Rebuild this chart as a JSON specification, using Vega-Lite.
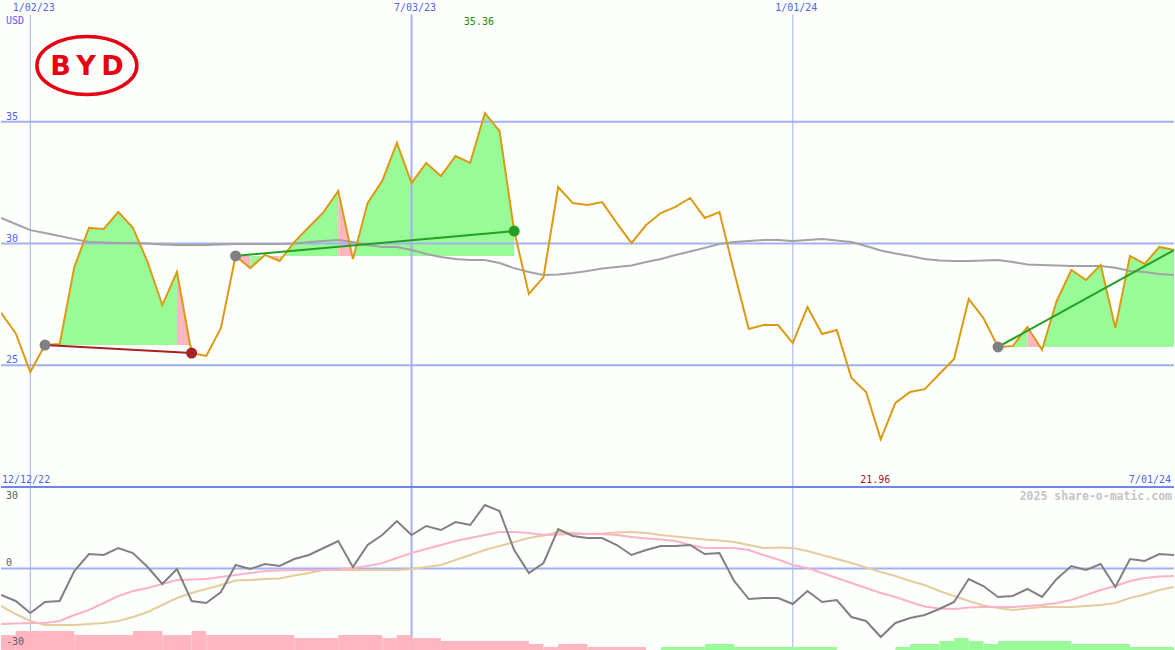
{
  "$schema": "https://vega.github.io/schema/vega-lite/v6.json",
  "width": 1175,
  "height": 650,
  "autosize": {"type": "fit", "contains": "padding"},
  "padding": 0,
  "background": "#fcfffc",
  "config": {"view": {"stroke": null}, "text": {"font": "DejaVu Sans Mono", "fontSize": 10}},
  "datasets": {
    "w": [
      {"d":"2022-12-19","p":27.15,"ma":31.05,"o":-9.75,"s1":-20.43,"s2":-13.80},
      {"d":"2022-12-26","p":26.32,"ma":30.80,"o":-11.96,"s1":-20.24,"s2":-16.75},
      {"d":"2023-01-02","p":24.72,"ma":30.55,"o":-16.38,"s1":-20.06,"s2":-19.32},
      {"d":"2023-01-09","p":25.83,"ma":30.43,"o":-12.33,"s1":-20.06,"s2":-20.79},
      {"d":"2023-01-16","p":25.87,"ma":30.31,"o":-11.96,"s1":-19.32,"s2":-20.79},
      {"d":"2023-01-23","p":29.03,"ma":30.18,"o":-0.92,"s1":-17.11,"s2":-20.79},
      {"d":"2023-01-30","p":30.64,"ma":30.06,"o":5.34,"s1":-15.27,"s2":-20.43},
      {"d":"2023-02-06","p":30.60,"ma":30.04,"o":4.97,"s1":-12.70,"s2":-20.06},
      {"d":"2023-02-13","p":31.29,"ma":30.02,"o":7.55,"s1":-10.12,"s2":-19.32},
      {"d":"2023-02-20","p":30.64,"ma":30.02,"o":5.70,"s1":-8.28,"s2":-17.85},
      {"d":"2023-02-27","p":29.24,"ma":30.00,"o":0.55,"s1":-7.18,"s2":-16.01},
      {"d":"2023-03-06","p":27.47,"ma":29.96,"o":-5.71,"s1":-5.70,"s2":-13.43},
      {"d":"2023-03-13","p":28.83,"ma":29.94,"o":-0.18,"s1":-4.23,"s2":-10.86},
      {"d":"2023-03-20","p":25.50,"ma":29.94,"o":-11.96,"s1":-4.05,"s2":-9.02},
      {"d":"2023-03-27","p":25.38,"ma":29.94,"o":-12.70,"s1":-3.86,"s2":-7.54},
      {"d":"2023-04-03","p":26.53,"ma":29.96,"o":-8.65,"s1":-3.13,"s2":-6.07},
      {"d":"2023-04-10","p":29.49,"ma":29.98,"o":1.29,"s1":-2.39,"s2":-4.42},
      {"d":"2023-04-17","p":28.99,"ma":29.98,"o":-0.18,"s1":-1.66,"s2":-4.23},
      {"d":"2023-04-24","p":29.53,"ma":29.98,"o":1.66,"s1":-0.92,"s2":-3.86},
      {"d":"2023-05-01","p":29.28,"ma":29.98,"o":0.92,"s1":-0.74,"s2":-3.68},
      {"d":"2023-05-08","p":30.06,"ma":30.00,"o":3.50,"s1":-0.55,"s2":-2.58},
      {"d":"2023-05-15","p":30.68,"ma":30.06,"o":4.97,"s1":-0.55,"s2":-1.66},
      {"d":"2023-05-22","p":31.29,"ma":30.10,"o":7.55,"s1":-0.55,"s2":-0.55},
      {"d":"2023-05-29","p":32.16,"ma":30.14,"o":10.12,"s1":-0.37,"s2":-0.55},
      {"d":"2023-06-05","p":29.36,"ma":30.06,"o":0.55,"s1":0.18,"s2":-0.55},
      {"d":"2023-06-12","p":31.66,"ma":29.94,"o":8.65,"s1":0.92,"s2":-0.55},
      {"d":"2023-06-19","p":32.57,"ma":29.86,"o":12.33,"s1":2.02,"s2":-0.55},
      {"d":"2023-06-26","p":34.13,"ma":29.86,"o":17.48,"s1":3.86,"s2":-0.55},
      {"d":"2023-07-03","p":32.48,"ma":29.73,"o":12.33,"s1":5.70,"s2":-0.18},
      {"d":"2023-07-10","p":33.31,"ma":29.57,"o":15.64,"s1":7.18,"s2":0.55},
      {"d":"2023-07-17","p":32.77,"ma":29.45,"o":14.17,"s1":8.65,"s2":1.29},
      {"d":"2023-07-24","p":33.59,"ma":29.36,"o":17.11,"s1":10.12,"s2":3.13},
      {"d":"2023-07-31","p":33.31,"ma":29.32,"o":16.01,"s1":11.22,"s2":4.97},
      {"d":"2023-08-07","p":35.36,"ma":29.32,"o":23.37,"s1":12.33,"s2":6.81},
      {"d":"2023-08-14","p":34.62,"ma":29.20,"o":21.16,"s1":13.43,"s2":8.28},
      {"d":"2023-08-21","p":30.51,"ma":28.99,"o":6.81,"s1":13.43,"s2":9.75},
      {"d":"2023-08-28","p":27.93,"ma":28.83,"o":-1.66,"s1":13.06,"s2":11.23},
      {"d":"2023-09-04","p":28.62,"ma":28.71,"o":2.02,"s1":12.33,"s2":12.15},
      {"d":"2023-09-11","p":32.32,"ma":28.73,"o":14.54,"s1":12.51,"s2":13.43},
      {"d":"2023-09-18","p":31.66,"ma":28.79,"o":11.96,"s1":12.70,"s2":13.07},
      {"d":"2023-09-25","p":31.58,"ma":28.87,"o":11.22,"s1":12.70,"s2":12.70},
      {"d":"2023-10-02","p":31.70,"ma":28.97,"o":11.22,"s1":12.70,"s2":12.88},
      {"d":"2023-10-09","p":30.84,"ma":29.03,"o":8.65,"s1":12.33,"s2":13.25},
      {"d":"2023-10-16","p":30.02,"ma":29.10,"o":4.97,"s1":11.59,"s2":13.43},
      {"d":"2023-10-23","p":30.76,"ma":29.24,"o":6.81,"s1":11.04,"s2":13.07},
      {"d":"2023-10-30","p":31.25,"ma":29.36,"o":8.28,"s1":10.67,"s2":12.33},
      {"d":"2023-11-06","p":31.50,"ma":29.53,"o":8.28,"s1":10.12,"s2":11.78},
      {"d":"2023-11-13","p":31.87,"ma":29.67,"o":8.65,"s1":8.65,"s2":11.23},
      {"d":"2023-11-20","p":31.05,"ma":29.82,"o":5.34,"s1":7.54,"s2":10.67},
      {"d":"2023-11-27","p":31.29,"ma":29.98,"o":5.70,"s1":7.54,"s2":10.31},
      {"d":"2023-12-04","p":28.83,"ma":30.06,"o":-4.60,"s1":7.54,"s2":9.75},
      {"d":"2023-12-11","p":26.49,"ma":30.10,"o":-11.23,"s1":6.81,"s2":8.65},
      {"d":"2023-12-18","p":26.65,"ma":30.14,"o":-10.86,"s1":4.97,"s2":7.54},
      {"d":"2023-12-25","p":26.65,"ma":30.14,"o":-10.86,"s1":3.31,"s2":7.73},
      {"d":"2024-01-01","p":25.91,"ma":30.10,"o":-13.07,"s1":1.29,"s2":7.54},
      {"d":"2024-01-08","p":27.39,"ma":30.14,"o":-8.28,"s1":0.18,"s2":6.44},
      {"d":"2024-01-15","p":26.28,"ma":30.18,"o":-12.33,"s1":-1.66,"s2":4.97},
      {"d":"2024-01-22","p":26.45,"ma":30.12,"o":-11.59,"s1":-3.50,"s2":3.50},
      {"d":"2024-01-29","p":24.48,"ma":30.06,"o":-17.85,"s1":-5.34,"s2":2.02},
      {"d":"2024-02-05","p":23.90,"ma":29.90,"o":-19.32,"s1":-7.18,"s2":0.37},
      {"d":"2024-02-12","p":21.96,"ma":29.71,"o":-25.21,"s1":-9.02,"s2":-1.29},
      {"d":"2024-02-19","p":23.45,"ma":29.59,"o":-20.06,"s1":-10.49,"s2":-2.76},
      {"d":"2024-02-26","p":23.90,"ma":29.49,"o":-18.22,"s1":-12.33,"s2":-4.60},
      {"d":"2024-03-04","p":24.02,"ma":29.36,"o":-17.11,"s1":-13.99,"s2":-6.07},
      {"d":"2024-03-11","p":24.64,"ma":29.30,"o":-14.91,"s1":-14.72,"s2":-8.28},
      {"d":"2024-03-18","p":25.26,"ma":29.28,"o":-12.33,"s1":-14.91,"s2":-10.12},
      {"d":"2024-03-25","p":27.72,"ma":29.28,"o":-3.86,"s1":-14.35,"s2":-11.96},
      {"d":"2024-04-01","p":26.94,"ma":29.30,"o":-6.44,"s1":-14.17,"s2":-13.62},
      {"d":"2024-04-08","p":25.75,"ma":29.32,"o":-10.49,"s1":-14.17,"s2":-14.54},
      {"d":"2024-04-15","p":25.79,"ma":29.24,"o":-10.12,"s1":-14.17,"s2":-15.27},
      {"d":"2024-04-22","p":26.57,"ma":29.14,"o":-7.54,"s1":-13.80,"s2":-14.72},
      {"d":"2024-04-29","p":25.63,"ma":29.12,"o":-10.49,"s1":-13.43,"s2":-14.17},
      {"d":"2024-05-06","p":27.64,"ma":29.10,"o":-3.86,"s1":-12.70,"s2":-14.17},
      {"d":"2024-05-13","p":28.91,"ma":29.08,"o":0.92,"s1":-11.59,"s2":-14.17},
      {"d":"2024-05-20","p":28.50,"ma":29.08,"o":-0.55,"s1":-9.75,"s2":-13.80},
      {"d":"2024-05-27","p":29.12,"ma":29.08,"o":1.66,"s1":-7.91,"s2":-13.43},
      {"d":"2024-06-03","p":26.53,"ma":29.00,"o":-6.81,"s1":-6.44,"s2":-12.70},
      {"d":"2024-06-10","p":29.49,"ma":28.87,"o":3.50,"s1":-4.60,"s2":-10.86},
      {"d":"2024-06-17","p":29.16,"ma":28.83,"o":2.76,"s1":-3.50,"s2":-9.57},
      {"d":"2024-06-24","p":29.86,"ma":28.75,"o":5.34,"s1":-2.94,"s2":-7.91},
      {"d":"2024-07-01","p":29.73,"ma":28.71,"o":4.97,"s1":-2.76,"s2":-6.81}
    ],
    "fills": [
      {"d":"2023-01-09","p":25.83,"b":25.83,"run":"a","c":"up"},
      {"d":"2023-01-16","p":25.87,"b":25.83,"run":"a","c":"up"},
      {"d":"2023-01-23","p":29.03,"b":25.83,"run":"a","c":"up"},
      {"d":"2023-01-30","p":30.64,"b":25.83,"run":"a","c":"up"},
      {"d":"2023-02-06","p":30.60,"b":25.83,"run":"a","c":"up"},
      {"d":"2023-02-13","p":31.29,"b":25.83,"run":"a","c":"up"},
      {"d":"2023-02-20","p":30.64,"b":25.83,"run":"a","c":"up"},
      {"d":"2023-02-27","p":29.24,"b":25.83,"run":"a","c":"up"},
      {"d":"2023-03-06","p":27.47,"b":25.83,"run":"a","c":"up"},
      {"d":"2023-03-13","p":28.83,"b":25.83,"run":"a","c":"up"},
      {"d":"2023-03-13","p":28.83,"b":25.83,"run":"b","c":"down"},
      {"d":"2023-03-20","p":25.50,"b":25.83,"run":"b","c":"down"},
      {"d":"2023-04-10","p":29.49,"b":29.49,"run":"c","c":"down"},
      {"d":"2023-04-17","p":28.99,"b":29.49,"run":"c","c":"down"},
      {"d":"2023-04-17","p":28.99,"b":29.49,"run":"d","c":"up"},
      {"d":"2023-04-24","p":29.53,"b":29.49,"run":"d","c":"up"},
      {"d":"2023-04-24","p":29.53,"b":29.49,"run":"e","c":"down"},
      {"d":"2023-05-01","p":29.28,"b":29.49,"run":"e","c":"down"},
      {"d":"2023-05-01","p":29.28,"b":29.49,"run":"f","c":"up"},
      {"d":"2023-05-08","p":30.06,"b":29.49,"run":"f","c":"up"},
      {"d":"2023-05-15","p":30.68,"b":29.49,"run":"f","c":"up"},
      {"d":"2023-05-22","p":31.29,"b":29.49,"run":"f","c":"up"},
      {"d":"2023-05-29","p":32.16,"b":29.49,"run":"f","c":"up"},
      {"d":"2023-05-29","p":32.16,"b":29.49,"run":"g","c":"down"},
      {"d":"2023-06-05","p":29.36,"b":29.49,"run":"g","c":"down"},
      {"d":"2023-06-05","p":29.36,"b":29.49,"run":"h","c":"up"},
      {"d":"2023-06-12","p":31.66,"b":29.49,"run":"h","c":"up"},
      {"d":"2023-06-19","p":32.57,"b":29.49,"run":"h","c":"up"},
      {"d":"2023-06-26","p":34.13,"b":29.49,"run":"h","c":"up"},
      {"d":"2023-07-03","p":32.48,"b":29.49,"run":"h","c":"up"},
      {"d":"2023-07-10","p":33.31,"b":29.49,"run":"h","c":"up"},
      {"d":"2023-07-17","p":32.77,"b":29.49,"run":"h","c":"up"},
      {"d":"2023-07-24","p":33.59,"b":29.49,"run":"h","c":"up"},
      {"d":"2023-07-31","p":33.31,"b":29.49,"run":"h","c":"up"},
      {"d":"2023-08-07","p":35.36,"b":29.49,"run":"h","c":"up"},
      {"d":"2023-08-14","p":34.62,"b":29.49,"run":"h","c":"up"},
      {"d":"2023-08-21","p":30.51,"b":29.49,"run":"h","c":"up"},
      {"d":"2024-04-08","p":25.75,"b":25.75,"run":"i","c":"up"},
      {"d":"2024-04-15","p":25.79,"b":25.75,"run":"i","c":"up"},
      {"d":"2024-04-22","p":26.57,"b":25.75,"run":"i","c":"up"},
      {"d":"2024-04-22","p":26.57,"b":25.75,"run":"j","c":"down"},
      {"d":"2024-04-29","p":25.63,"b":25.75,"run":"j","c":"down"},
      {"d":"2024-04-29","p":25.63,"b":25.75,"run":"k","c":"up"},
      {"d":"2024-05-06","p":27.64,"b":25.75,"run":"k","c":"up"},
      {"d":"2024-05-13","p":28.91,"b":25.75,"run":"k","c":"up"},
      {"d":"2024-05-20","p":28.50,"b":25.75,"run":"k","c":"up"},
      {"d":"2024-05-27","p":29.12,"b":25.75,"run":"k","c":"up"},
      {"d":"2024-06-03","p":26.53,"b":25.75,"run":"k","c":"up"},
      {"d":"2024-06-10","p":29.49,"b":25.75,"run":"k","c":"up"},
      {"d":"2024-06-17","p":29.16,"b":25.75,"run":"k","c":"up"},
      {"d":"2024-06-24","p":29.86,"b":25.75,"run":"k","c":"up"},
      {"d":"2024-07-01","p":29.73,"b":25.75,"run":"k","c":"up"}
    ],
    "trades": [
      {"d":"2023-01-09","p":25.83,"trade":1,"c":"loss"},
      {"d":"2023-03-20","p":25.50,"trade":1,"c":"loss"},
      {"d":"2023-04-10","p":29.49,"trade":2,"c":"gain"},
      {"d":"2023-08-21","p":30.51,"trade":2,"c":"gain"},
      {"d":"2024-04-08","p":25.75,"trade":3,"c":"gain"},
      {"d":"2024-07-01","p":29.73,"trade":3,"c":"gain"}
    ],
    "dots": [
      {"d":"2023-01-09","p":25.83,"c":"entry"},
      {"d":"2023-03-20","p":25.50,"c":"loss"},
      {"d":"2023-04-10","p":29.49,"c":"entry"},
      {"d":"2023-08-21","p":30.51,"c":"gain"},
      {"d":"2024-04-08","p":25.75,"c":"entry"}
    ],
    "vgrid": [
      {"d":"2023-01-02","t":"1/02/23"},
      {"d":"2023-07-03","t":"7/03/23"},
      {"d":"2024-01-01","t":"1/01/24"}
    ],
    "bars": [
      {"d":"2022-12-19","d2":"2022-12-26","v":-24.5,"c":"down"},
      {"d":"2022-12-26","d2":"2023-01-23","v":-23.0,"c":"down"},
      {"d":"2023-01-23","d2":"2023-02-20","v":-24.5,"c":"down"},
      {"d":"2023-02-20","d2":"2023-03-06","v":-23.0,"c":"down"},
      {"d":"2023-03-06","d2":"2023-03-20","v":-24.5,"c":"down"},
      {"d":"2023-03-20","d2":"2023-03-27","v":-23.0,"c":"down"},
      {"d":"2023-03-27","d2":"2023-05-08","v":-24.5,"c":"down"},
      {"d":"2023-05-08","d2":"2023-05-29","v":-25.6,"c":"down"},
      {"d":"2023-05-29","d2":"2023-06-19","v":-24.5,"c":"down"},
      {"d":"2023-06-19","d2":"2023-06-26","v":-25.6,"c":"down"},
      {"d":"2023-06-26","d2":"2023-07-03","v":-24.5,"c":"down"},
      {"d":"2023-07-03","d2":"2023-07-17","v":-25.6,"c":"down"},
      {"d":"2023-07-17","d2":"2023-08-28","v":-26.7,"c":"down"},
      {"d":"2023-08-28","d2":"2023-09-04","v":-27.8,"c":"down"},
      {"d":"2023-09-04","d2":"2023-09-11","v":-28.9,"c":"down"},
      {"d":"2023-09-11","d2":"2023-09-25","v":-27.8,"c":"down"},
      {"d":"2023-09-25","d2":"2023-10-23","v":-28.9,"c":"down"},
      {"d":"2023-10-30","d2":"2023-11-20","v":-28.9,"c":"up"},
      {"d":"2023-11-20","d2":"2023-12-04","v":-27.8,"c":"up"},
      {"d":"2023-12-04","d2":"2024-01-22","v":-28.9,"c":"up"},
      {"d":"2024-02-19","d2":"2024-02-26","v":-28.9,"c":"up"},
      {"d":"2024-02-26","d2":"2024-03-11","v":-27.8,"c":"up"},
      {"d":"2024-03-11","d2":"2024-03-18","v":-26.7,"c":"up"},
      {"d":"2024-03-18","d2":"2024-03-25","v":-25.6,"c":"up"},
      {"d":"2024-03-25","d2":"2024-04-01","v":-26.7,"c":"up"},
      {"d":"2024-04-01","d2":"2024-04-08","v":-27.8,"c":"up"},
      {"d":"2024-04-08","d2":"2024-05-13","v":-26.7,"c":"up"},
      {"d":"2024-05-13","d2":"2024-06-10","v":-27.8,"c":"up"},
      {"d":"2024-06-10","d2":"2024-07-01","v":-28.9,"c":"up"}
    ]
  },
  "layer": [
    {
      "layer": [
        {
          "data": {"name": "fills"},
          "mark": {"type": "area", "clip": true},
          "encoding": {
            "x": {"field": "d", "type": "temporal", "axis": null, "scale": {"domain": [{"year":2022,"month":12,"date":19,"utc":true},{"year":2024,"month":7,"date":1,"utc":true}]}},
            "y": {"field": "p", "type": "quantitative", "axis": null, "scale": {"domain": [20, 40], "range": [487, 0], "nice": false, "zero": false}},
            "y2": {"field": "b"},
            "detail": {"field": "run"},
            "color": {"field": "c", "type": "nominal", "legend": null, "scale": {"domain": ["up","down","gain","loss","entry"], "range": ["#98fb98","#ffb6c1","#22a022","#a52323","#808080"]}}
          }
        },
        {
          "data": {"values": [{"v": 25}, {"v": 30}, {"v": 35}]},
          "mark": {"type": "rule", "color": "#a3b1f2", "strokeWidth": 2},
          "encoding": {
            "y": {"field": "v", "type": "quantitative", "axis": null, "scale": {"domain": [20, 40], "range": [487, 0], "nice": false, "zero": false}}
          }
        },
        {
          "data": {"name": "vgrid"},
          "mark": {"type": "rule", "color": "#a3b1f2"},
          "encoding": {
            "x": {"field": "d", "type": "temporal", "axis": null, "scale": {"domain": [{"year":2022,"month":12,"date":19,"utc":true},{"year":2024,"month":7,"date":1,"utc":true}]}},
            "y": {"datum": 39.4, "type": "quantitative", "axis": null, "scale": {"domain": [20, 40], "range": [487, 0], "nice": false, "zero": false}},
            "y2": {"datum": 20},
            "strokeWidth": {"condition": {"test": "utcmonth(datum.d) == 6", "value": 2}, "value": 1}
          }
        },
        {
          "data": {"name": "w"},
          "mark": {"type": "line", "color": "#a2a2a2", "strokeWidth": 2, "clip": true},
          "encoding": {
            "x": {"field": "d", "type": "temporal", "axis": null, "scale": {"domain": [{"year":2022,"month":12,"date":19,"utc":true},{"year":2024,"month":7,"date":1,"utc":true}]}},
            "y": {"field": "ma", "type": "quantitative", "axis": null, "scale": {"domain": [20, 40], "range": [487, 0], "nice": false, "zero": false}}
          }
        },
        {
          "data": {"name": "w"},
          "mark": {"type": "line", "color": "#dc9a12", "strokeWidth": 2, "clip": true},
          "encoding": {
            "x": {"field": "d", "type": "temporal", "axis": null, "scale": {"domain": [{"year":2022,"month":12,"date":19,"utc":true},{"year":2024,"month":7,"date":1,"utc":true}]}},
            "y": {"field": "p", "type": "quantitative", "axis": null, "scale": {"domain": [20, 40], "range": [487, 0], "nice": false, "zero": false}}
          }
        },
        {
          "data": {"name": "trades"},
          "mark": {"type": "line", "strokeWidth": 2, "clip": true},
          "encoding": {
            "x": {"field": "d", "type": "temporal", "axis": null, "scale": {"domain": [{"year":2022,"month":12,"date":19,"utc":true},{"year":2024,"month":7,"date":1,"utc":true}]}},
            "y": {"field": "p", "type": "quantitative", "axis": null, "scale": {"domain": [20, 40], "range": [487, 0], "nice": false, "zero": false}},
            "detail": {"field": "trade"},
            "color": {"field": "c", "type": "nominal", "legend": null, "scale": {"domain": ["up","down","gain","loss","entry"], "range": ["#98fb98","#ffb6c1","#22a022","#a52323","#808080"]}}
          }
        },
        {
          "data": {"name": "dots"},
          "mark": {"type": "point", "filled": true, "size": 120, "opacity": 1},
          "encoding": {
            "x": {"field": "d", "type": "temporal", "axis": null, "scale": {"domain": [{"year":2022,"month":12,"date":19,"utc":true},{"year":2024,"month":7,"date":1,"utc":true}]}},
            "y": {"field": "p", "type": "quantitative", "axis": null, "scale": {"domain": [20, 40], "range": [487, 0], "nice": false, "zero": false}},
            "color": {"field": "c", "type": "nominal", "legend": null, "scale": {"domain": ["up","down","gain","loss","entry"], "range": ["#98fb98","#ffb6c1","#22a022","#a52323","#808080"]}}
          }
        },
        {
          "data": {"name": "vgrid"},
          "mark": {"type": "text", "align": "center", "baseline": "top", "dx": 3.5, "dy": 3, "color": "#4f63f0"},
          "encoding": {
            "x": {"field": "d", "type": "temporal", "axis": null, "scale": {"domain": [{"year":2022,"month":12,"date":19,"utc":true},{"year":2024,"month":7,"date":1,"utc":true}]}},
            "y": {"datum": 40, "type": "quantitative", "axis": null, "scale": {"domain": [20, 40], "range": [487, 0], "nice": false, "zero": false}},
            "text": {"field": "t"}
          }
        },
        {
          "data": {"values": [{"d": "2022-12-19", "t": "USD"}]},
          "mark": {"type": "text", "align": "left", "baseline": "top", "dx": 5, "dy": 16, "color": "#4f63f0"},
          "encoding": {
            "x": {"field": "d", "type": "temporal", "axis": null, "scale": {"domain": [{"year":2022,"month":12,"date":19,"utc":true},{"year":2024,"month":7,"date":1,"utc":true}]}},
            "y": {"datum": 40, "type": "quantitative", "axis": null, "scale": {"domain": [20, 40], "range": [487, 0], "nice": false, "zero": false}},
            "text": {"field": "t"}
          }
        },
        {
          "data": {"values": [{"d": "2022-12-19", "v": 25, "t": "25"}, {"d": "2022-12-19", "v": 30, "t": "30"}, {"d": "2022-12-19", "v": 35, "t": "35"}]},
          "mark": {"type": "text", "align": "left", "baseline": "alphabetic", "dx": 5, "dy": -2, "color": "#4f63f0"},
          "encoding": {
            "x": {"field": "d", "type": "temporal", "axis": null, "scale": {"domain": [{"year":2022,"month":12,"date":19,"utc":true},{"year":2024,"month":7,"date":1,"utc":true}]}},
            "y": {"field": "v", "type": "quantitative", "axis": null, "scale": {"domain": [20, 40], "range": [487, 0], "nice": false, "zero": false}},
            "text": {"field": "t"}
          }
        },
        {
          "data": {"values": [{"d": "2022-12-19", "t": "12/12/22"}]},
          "mark": {"type": "text", "align": "left", "baseline": "alphabetic", "dx": 1, "dy": -4, "color": "#4f63f0"},
          "encoding": {
            "x": {"field": "d", "type": "temporal", "axis": null, "scale": {"domain": [{"year":2022,"month":12,"date":19,"utc":true},{"year":2024,"month":7,"date":1,"utc":true}]}},
            "y": {"datum": 20, "type": "quantitative", "axis": null, "scale": {"domain": [20, 40], "range": [487, 0], "nice": false, "zero": false}},
            "text": {"field": "t"}
          }
        },
        {
          "data": {"values": [{"d": "2024-07-01", "t": "7/01/24"}]},
          "mark": {"type": "text", "align": "right", "baseline": "alphabetic", "dx": -3, "dy": -4, "color": "#4f63f0"},
          "encoding": {
            "x": {"field": "d", "type": "temporal", "axis": null, "scale": {"domain": [{"year":2022,"month":12,"date":19,"utc":true},{"year":2024,"month":7,"date":1,"utc":true}]}},
            "y": {"datum": 20, "type": "quantitative", "axis": null, "scale": {"domain": [20, 40], "range": [487, 0], "nice": false, "zero": false}},
            "text": {"field": "t"}
          }
        },
        {
          "data": {"values": [{"d": "2024-02-12", "t": "21.96"}]},
          "mark": {"type": "text", "align": "center", "baseline": "alphabetic", "dx": -5.5, "dy": -4, "color": "#a01a1a"},
          "encoding": {
            "x": {"field": "d", "type": "temporal", "axis": null, "scale": {"domain": [{"year":2022,"month":12,"date":19,"utc":true},{"year":2024,"month":7,"date":1,"utc":true}]}},
            "y": {"datum": 20, "type": "quantitative", "axis": null, "scale": {"domain": [20, 40], "range": [487, 0], "nice": false, "zero": false}},
            "text": {"field": "t"}
          }
        },
        {
          "data": {"values": [{"d": "2023-08-07", "t": "35.36"}]},
          "mark": {"type": "text", "align": "center", "baseline": "alphabetic", "dx": -6, "dy": 25, "color": "#148c14"},
          "encoding": {
            "x": {"field": "d", "type": "temporal", "axis": null, "scale": {"domain": [{"year":2022,"month":12,"date":19,"utc":true},{"year":2024,"month":7,"date":1,"utc":true}]}},
            "y": {"datum": 40, "type": "quantitative", "axis": null, "scale": {"domain": [20, 40], "range": [487, 0], "nice": false, "zero": false}},
            "text": {"field": "t"}
          }
        },
        {
          "data": {"values": [{"d": "2023-01-29", "p": 37.31}]},
          "mark": {"type": "point", "shape": "M -1 0 A 1 0.58 0 1 1 1 0 A 1 0.58 0 1 1 -1 0 Z", "filled": false, "stroke": "#e60012", "strokeWidth": 3.5, "size": 10000, "opacity": 1},
          "encoding": {
            "x": {"field": "d", "type": "temporal", "axis": null, "scale": {"domain": [{"year":2022,"month":12,"date":19,"utc":true},{"year":2024,"month":7,"date":1,"utc":true}]}},
            "y": {"field": "p", "type": "quantitative", "axis": null, "scale": {"domain": [20, 40], "range": [487, 0], "nice": false, "zero": false}}
          }
        },
        {
          "data": {"values": [{"d": "2023-01-29", "p": 37.31, "t": "B\u2009Y\u2009D"}]},
          "mark": {"type": "text", "align": "center", "baseline": "middle", "font": "DejaVu Sans", "fontWeight": "bold", "fontSize": 27, "color": "#e60012", "dy": 1},
          "encoding": {
            "x": {"field": "d", "type": "temporal", "axis": null, "scale": {"domain": [{"year":2022,"month":12,"date":19,"utc":true},{"year":2024,"month":7,"date":1,"utc":true}]}},
            "y": {"field": "p", "type": "quantitative", "axis": null, "scale": {"domain": [20, 40], "range": [487, 0], "nice": false, "zero": false}},
            "text": {"field": "t"}
          }
        }
      ]
    },
    {
      "layer": [
        {
          "data": {"values": [{"v": 0}]},
          "mark": {"type": "rule", "color": "#a3b1f2", "strokeWidth": 2},
          "encoding": {
            "y": {"field": "v", "type": "quantitative", "axis": null, "scale": {"domain": [-30, 30], "range": [650, 487], "nice": false, "zero": false}}
          }
        },
        {
          "data": {"name": "vgrid"},
          "mark": {"type": "rule", "color": "#a3b1f2"},
          "encoding": {
            "x": {"field": "d", "type": "temporal", "axis": null, "scale": {"domain": [{"year":2022,"month":12,"date":19,"utc":true},{"year":2024,"month":7,"date":1,"utc":true}]}},
            "y": {"datum": 30, "type": "quantitative", "axis": null, "scale": {"domain": [-30, 30], "range": [650, 487], "nice": false, "zero": false}},
            "y2": {"datum": -30},
            "strokeWidth": {"condition": {"test": "utcmonth(datum.d) == 6", "value": 2}, "value": 1}
          }
        },
        {
          "data": {"values": [{"v": 30}]},
          "mark": {"type": "rule", "color": "#7084ee", "strokeWidth": 2},
          "encoding": {
            "y": {"field": "v", "type": "quantitative", "axis": null, "scale": {"domain": [-30, 30], "range": [650, 487], "nice": false, "zero": false}}
          }
        },
        {
          "data": {"name": "bars"},
          "mark": {"type": "rect"},
          "encoding": {
            "x": {"field": "d", "type": "temporal", "axis": null, "scale": {"domain": [{"year":2022,"month":12,"date":19,"utc":true},{"year":2024,"month":7,"date":1,"utc":true}]}},
            "x2": {"field": "d2"},
            "y": {"field": "v", "type": "quantitative", "axis": null, "scale": {"domain": [-30, 30], "range": [650, 487], "nice": false, "zero": false}},
            "y2": {"datum": -30},
            "color": {"field": "c", "type": "nominal", "legend": null, "scale": {"domain": ["up","down","gain","loss","entry"], "range": ["#98fb98","#ffb6c1","#22a022","#a52323","#808080"]}}
          }
        },
        {
          "data": {"name": "w"},
          "mark": {"type": "line", "color": "#e4cc9c", "strokeWidth": 2, "clip": true},
          "encoding": {
            "x": {"field": "d", "type": "temporal", "axis": null, "scale": {"domain": [{"year":2022,"month":12,"date":19,"utc":true},{"year":2024,"month":7,"date":1,"utc":true}]}},
            "y": {"field": "s2", "type": "quantitative", "axis": null, "scale": {"domain": [-30, 30], "range": [650, 487], "nice": false, "zero": false}}
          }
        },
        {
          "data": {"name": "w"},
          "mark": {"type": "line", "color": "#fbb2c8", "strokeWidth": 2, "clip": true},
          "encoding": {
            "x": {"field": "d", "type": "temporal", "axis": null, "scale": {"domain": [{"year":2022,"month":12,"date":19,"utc":true},{"year":2024,"month":7,"date":1,"utc":true}]}},
            "y": {"field": "s1", "type": "quantitative", "axis": null, "scale": {"domain": [-30, 30], "range": [650, 487], "nice": false, "zero": false}}
          }
        },
        {
          "data": {"name": "w"},
          "mark": {"type": "line", "color": "#808080", "strokeWidth": 2, "clip": true},
          "encoding": {
            "x": {"field": "d", "type": "temporal", "axis": null, "scale": {"domain": [{"year":2022,"month":12,"date":19,"utc":true},{"year":2024,"month":7,"date":1,"utc":true}]}},
            "y": {"field": "o", "type": "quantitative", "axis": null, "scale": {"domain": [-30, 30], "range": [650, 487], "nice": false, "zero": false}}
          }
        },
        {
          "data": {"values": [{"d": "2022-12-19", "t": "30"}]},
          "mark": {"type": "text", "align": "left", "baseline": "alphabetic", "dx": 5, "dy": 12, "color": "#606060"},
          "encoding": {
            "x": {"field": "d", "type": "temporal", "axis": null, "scale": {"domain": [{"year":2022,"month":12,"date":19,"utc":true},{"year":2024,"month":7,"date":1,"utc":true}]}},
            "y": {"datum": 30, "type": "quantitative", "axis": null, "scale": {"domain": [-30, 30], "range": [650, 487], "nice": false, "zero": false}},
            "text": {"field": "t"}
          }
        },
        {
          "data": {"values": [{"d": "2022-12-19", "t": "0"}]},
          "mark": {"type": "text", "align": "left", "baseline": "alphabetic", "dx": 5, "dy": -2.5, "color": "#606060"},
          "encoding": {
            "x": {"field": "d", "type": "temporal", "axis": null, "scale": {"domain": [{"year":2022,"month":12,"date":19,"utc":true},{"year":2024,"month":7,"date":1,"utc":true}]}},
            "y": {"datum": 0, "type": "quantitative", "axis": null, "scale": {"domain": [-30, 30], "range": [650, 487], "nice": false, "zero": false}},
            "text": {"field": "t"}
          }
        },
        {
          "data": {"values": [{"d": "2022-12-19", "t": "-30"}]},
          "mark": {"type": "text", "align": "left", "baseline": "alphabetic", "dx": 5, "dy": -5, "color": "#606060"},
          "encoding": {
            "x": {"field": "d", "type": "temporal", "axis": null, "scale": {"domain": [{"year":2022,"month":12,"date":19,"utc":true},{"year":2024,"month":7,"date":1,"utc":true}]}},
            "y": {"datum": -30, "type": "quantitative", "axis": null, "scale": {"domain": [-30, 30], "range": [650, 487], "nice": false, "zero": false}},
            "text": {"field": "t"}
          }
        },
        {
          "data": {"values": [{"d": "2024-07-01", "t": "2025 share-o-matic.com"}]},
          "mark": {"type": "text", "align": "right", "baseline": "alphabetic", "dx": -2, "dy": 13, "color": "#c4c4c4", "fontWeight": "bold", "fontSize": 11.5},
          "encoding": {
            "x": {"field": "d", "type": "temporal", "axis": null, "scale": {"domain": [{"year":2022,"month":12,"date":19,"utc":true},{"year":2024,"month":7,"date":1,"utc":true}]}},
            "y": {"datum": 30, "type": "quantitative", "axis": null, "scale": {"domain": [-30, 30], "range": [650, 487], "nice": false, "zero": false}},
            "text": {"field": "t"}
          }
        }
      ]
    }
  ],
  "resolve": {"scale": {"y": "independent"}}
}
